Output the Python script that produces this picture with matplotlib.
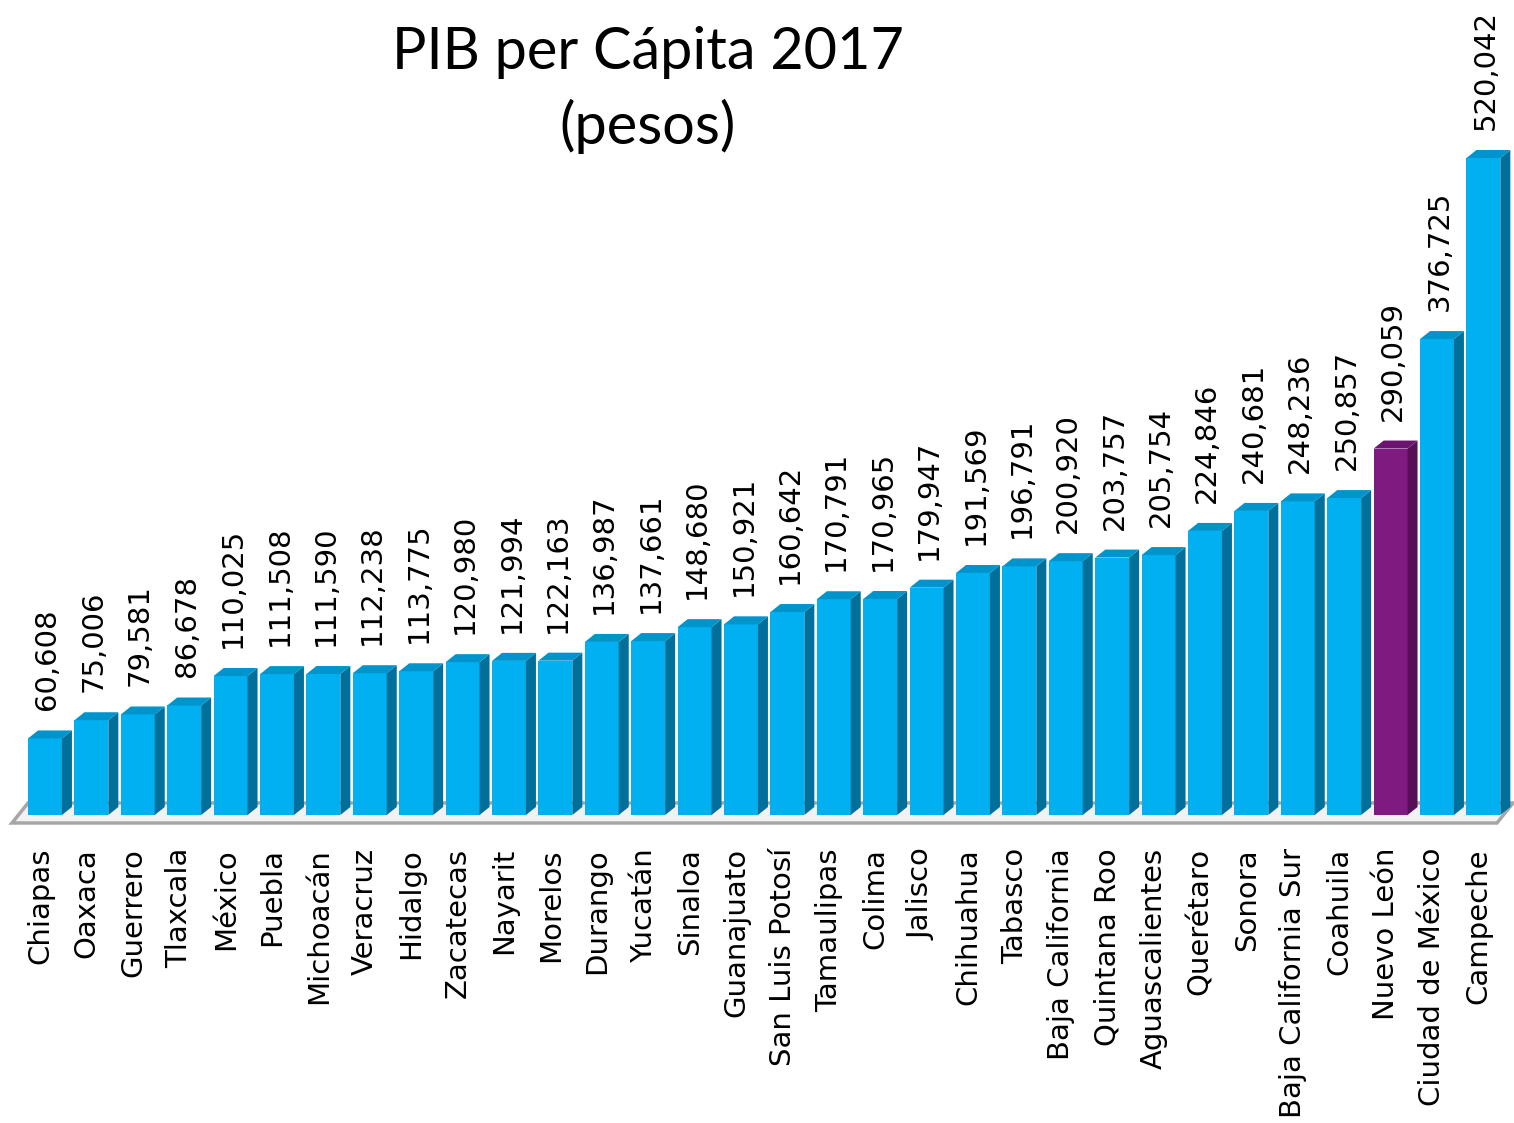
import matplotlib
matplotlib.use('Agg')
import matplotlib.pyplot as plt
from matplotlib.patches import Polygon

# datos
estados = ['Chiapas', 'Oaxaca', 'Guerrero', 'Tlaxcala', 'México', 'Puebla', 'Michoacán',
           'Veracruz', 'Hidalgo', 'Zacatecas', 'Nayarit', 'Morelos', 'Durango', 'Yucatán',
           'Sinaloa', 'Guanajuato', 'San Luis Potosí', 'Tamaulipas', 'Colima', 'Jalisco',
           'Chihuahua', 'Tabasco', 'Baja California', 'Quintana Roo', 'Aguascalientes',
           'Querétaro', 'Sonora', 'Baja California Sur', 'Coahuila', 'Nuevo León',
           'Ciudad de México', 'Campeche']
pib = [60608, 75006, 79581, 86678, 110025, 111508, 111590, 112238, 113775, 120980,
       121994, 122163, 136987, 137661, 148680, 150921, 160642, 170791, 170965, 179947,
       191569, 196791, 200920, 203757, 205754, 224846, 240681, 248236, 250857, 290059,
       376725, 520042]
destacado = 'Nuevo León'

W, H = 1514, 1123
fig = plt.figure(figsize=(W / 100, H / 100), dpi=100)
ax = fig.add_axes([0, 0, 1, 1])

# escala: px por barra y valor por px
paso = 46.4
vpx = max(pib) / 657.0
x0 = 45
y0 = 815
ax.set_xlim(-x0 / paso, (W - x0) / paso)
ax.set_ylim(-(H - y0) * vpx, y0 * vpx)
ax.axis('off')

ancho = 0.73
dx = 10 / paso
dy = 8 * vpx

# piso
xa, xb = -33 / paso, (1497 - x0) / paso
floor = Polygon([(xa, -8 * vpx), (xb, -8 * vpx), (xb + 16 / paso, 12 * vpx),
                 (xa + 16 / paso, 12 * vpx)], closed=True,
                facecolor='#f2f2f2', edgecolor='#a6a6a6', lw=2.5, zorder=1)
ax.add_patch(floor)

for i, (e, v) in enumerate(zip(estados, pib)):
    if e == destacado:
        cf, cs, ct = '#7f1a80', '#561058', '#6a1470'
    else:
        cf, cs, ct = '#00b0f0', '#006f9a', '#0094cc'
    l, r = i - ancho / 2, i + ancho / 2
    ax.bar(i, v, width=ancho, color=cf, zorder=3)
    ax.add_patch(Polygon([(r, 0), (r + dx, dy), (r + dx, v + dy), (r, v)],
                         closed=True, facecolor=cs, edgecolor='none', zorder=3))
    ax.add_patch(Polygon([(l, v), (r, v), (r + dx, v + dy), (l + dx, v + dy)],
                         closed=True, facecolor=ct, edgecolor='none', zorder=3))
    ax.text(i + 0.05, v + 28 * vpx, f'{v:,}', rotation=90, ha='center', va='bottom',
            fontsize=21, color='black')
    ax.text(i - 0.1, -33 * vpx, e, rotation=90, ha='center', va='top',
            fontsize=21, color='black')

fig.text(648 / W, 1 - 90 / H, 'PIB per Cápita 2017\n(pesos)', ha='center', va='center',
         fontsize=41.5, family=['Lato', 'DejaVu Sans'], linespacing=1.45)

fig.savefig('out.png', dpi=100)
